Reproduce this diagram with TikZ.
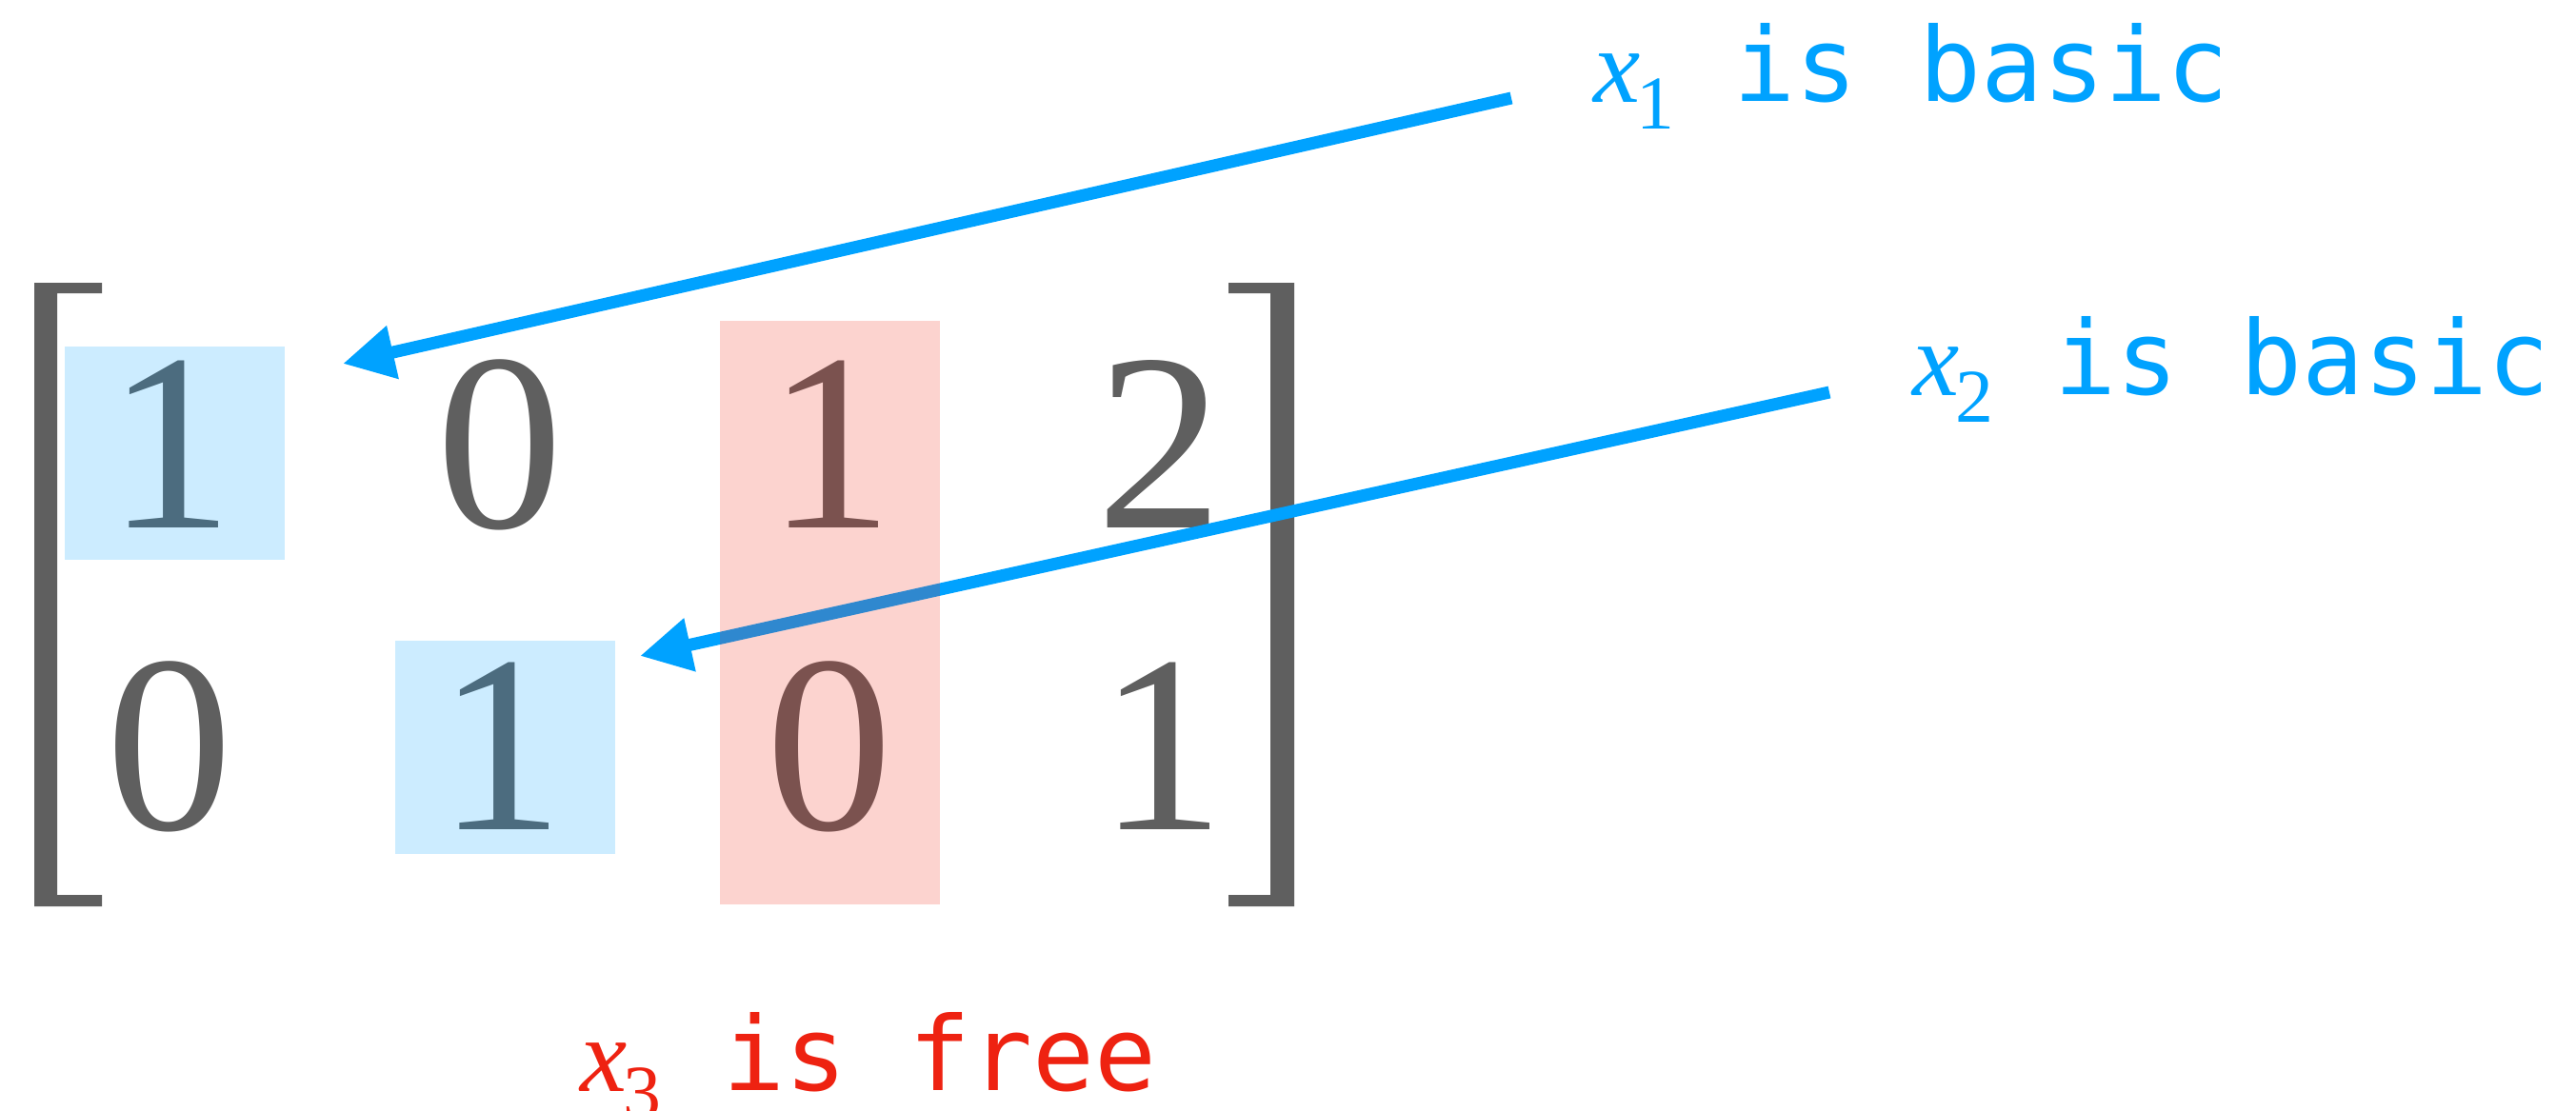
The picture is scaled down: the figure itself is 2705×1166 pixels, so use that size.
\documentclass[tikz,border=0pt]{standalone}
\usepackage{fontspec}
\setmainfont{Liberation Serif}
\setmonofont{DejaVu Sans Mono}
\usetikzlibrary{arrows.meta}
\definecolor{mgray}{HTML}{5F5F5F}
\definecolor{mblue}{HTML}{00A2FF}
\definecolor{mred}{HTML}{EE2211}
\newcommand{\subfont}{\fontsize{22.7}{23}\selectfont}
\begin{document}
\begin{tikzpicture}[x=0.01cm,y=-0.01cm,
  digit/.style={anchor=base, inner sep=0pt, text=mgray, font=\fontsize{75.6}{80}\selectfont},
  lbl/.style={anchor=base west, inner sep=0pt, font=\fontsize{31.5}{34}\selectfont},
  ttl/.style={anchor=base west, inner sep=0pt, font=\fontsize{30.7}{34}\selectfont\ttfamily},
  brk/.style={fill=mgray, draw=none},
  arr/.style={draw=mblue, line width=3.7pt, -{Triangle[length=15.3pt,width=15.3pt]}},
  bluebox/.style={fill=mblue, fill opacity=0.2, draw=none},
  redbox/.style={fill=mred, fill opacity=0.2, draw=none}]
\path[use as bounding box] (0,0) rectangle (2705,1166);
% matrix entries
\node[digit] (m11) at (179,554) {1};
\node[digit] (m12) at (525,554) {0};
\node[digit] (m13) at (872,554) {1};
\node[digit] (m14) at (1218,554) {2};
\node[digit] (m21) at (178,871) {0};
\node[digit] (m22) at (526,871) {1};
\node[digit] (m23) at (871,871) {0};
\node[digit] (m24) at (1220,871) {1};
% brackets
\fill[brk] (36,297) -- (107,297) -- (107,308) -- (60,308) -- (60,940) -- (107,940) -- (107,952) -- (36,952) -- cycle;
\fill[brk] (1359,297) -- (1290,297) -- (1290,308) -- (1334,308) -- (1334,940) -- (1290,940) -- (1290,952) -- (1359,952) -- cycle;
% labels
\node[lbl, text=mblue] (v1) at (1673,107) {\textit{x}\kern-1.2pt\raisebox{-8.2pt}{\subfont 1}};
\node[ttl, text=mblue] (t1) at (1820,106) {is basic};
\node[lbl, text=mblue] (v2) at (2008,415) {\textit{x}\kern-1.2pt\raisebox{-8.2pt}{\subfont 2}};
\node[ttl, text=mblue] (t2) at (2157,414) {is basic};
\node[lbl, text=mred] (v3) at (609,1146) {\textit{x}\kern-1.2pt\raisebox{-8.2pt}{\subfont 3}};
\node[ttl, text=mred] (t3) at (759,1145) {is free};
% arrows
\coordinate (a1s) at (1587,103);
\coordinate (a1e) at (360,382);
\coordinate (a2s) at (1921,412);
\coordinate (a2e) at (672,689);
\draw[arr] (a1s) -- (a1e);
\draw[arr] (a2s) -- (a2e);
% highlight boxes
\fill[bluebox] (68,364) rectangle (299,588);
\fill[bluebox] (415,673) rectangle (646,897);
\fill[redbox] (756,337) rectangle (987,950);
\end{tikzpicture}
\end{document}
